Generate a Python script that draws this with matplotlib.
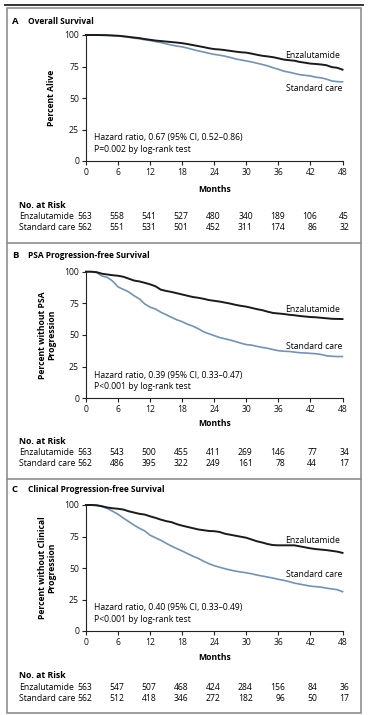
import numpy as np
import matplotlib.pyplot as plt
from matplotlib.lines import Line2D
from matplotlib.patches import Rectangle

plt.rcParams['font.family'] = ['Open Sans', 'DejaVu Sans']
FS = 6.2

# Data
months = list(range(49))
risk_months = [0, 6, 12, 18, 24, 30, 36, 42, 48]

os_enz = [100, 100, 100, 99.9, 99.8, 99.6, 99.4, 99, 98.5, 98, 97.5, 96.8, 96.2,
          95.6, 95.2, 94.8, 94.4, 94, 93.5, 92.8, 92, 91.2, 90.4, 89.5, 88.8,
          88.5, 88, 87.4, 86.8, 86.3, 86, 85.2, 84.3, 83.5, 83, 82.4, 81.5,
          80.5, 80, 79.6, 78.6, 78, 77.3, 77, 76.6, 76, 74.5, 74, 72.5]
os_std = [100, 100, 100, 99.9, 99.8, 99.5, 99.3, 98.8, 98.2, 97.5, 97, 96.2, 95.6,
          94.8, 94, 93, 92, 91.2, 90.6, 89.6, 88.5, 87.4, 86.5, 85.5, 84.6,
          84, 83.2, 82.2, 81, 80.2, 79.4, 78.6, 77.6, 76.6, 75.5, 74, 72.8,
          71.3, 70.5, 69.5, 68.5, 68, 67.5, 66.5, 66, 65, 63.5, 63, 62.8]

psa_enz = [100, 100, 99.6, 98.4, 97.8, 97.2, 96.8, 96, 94.5, 93, 92.3, 91.2, 90,
           88.5, 85.8, 84.8, 84, 83, 82, 81, 80, 79.4, 78.6, 77.6, 77,
           76.4, 75.6, 74.8, 73.8, 73, 72.4, 71.4, 70.4, 69.6, 68.4, 67.4, 67,
           66.6, 66, 65.6, 65, 64.6, 64.2, 64, 63.6, 63.2, 62.8, 62.7, 62.6]
psa_std = [100, 100, 99.3, 96.6, 95.5, 92.5, 88, 86, 84, 81, 78.5, 74.5, 72,
           70.5, 68, 66, 64, 62, 60.5, 58.5, 57, 55, 52.5, 51, 49.5,
           48, 47, 46, 44.8, 43.5, 42.4, 42, 41, 40.2, 39.5, 38.5, 37.6,
           37.2, 37, 36.5, 36, 35.8, 35.5, 35.2, 34.6, 33.6, 33.2, 33, 33]

cpf_enz = [100, 100, 99.8, 99, 98, 97.4, 97, 96.4, 95, 94, 93, 92.4, 91,
           89.8, 88.4, 87.2, 86.4, 84.8, 83.6, 82.6, 81.6, 80.6, 80, 79.4, 79.2,
           78.6, 77.2, 76.4, 75.6, 74.8, 74, 72.6, 71.2, 70.2, 69, 68.2, 68,
           68, 68, 68, 67.2, 66.4, 65.6, 65, 64.6, 64.2, 63.6, 63, 62]
cpf_std = [100, 100, 99.6, 98.8, 97.2, 95, 92.6, 89.6, 86.8, 84, 81.5, 79.4, 76,
           74, 72, 69.6, 67.4, 65.4, 63.5, 61.4, 59.4, 57.6, 55.4, 53.4, 51.8,
           50.6, 49.4, 48.4, 47.5, 46.8, 46.2, 45.4, 44.4, 43.6, 42.8, 42, 41,
           40.2, 39.2, 38, 37.2, 36.4, 35.6, 35.2, 34.8, 34, 33.4, 32.8, 31.2]

risk_os_enz = [563, 558, 541, 527, 480, 340, 189, 106, 45]
risk_os_std = [562, 551, 531, 501, 452, 311, 174, 86, 32]
risk_psa_enz = [563, 543, 500, 455, 411, 269, 146, 77, 34]
risk_psa_std = [562, 486, 395, 322, 249, 161, 78, 44, 17]
risk_cpf_enz = [563, 547, 507, 468, 424, 284, 156, 84, 36]
risk_cpf_std = [562, 512, 418, 346, 272, 182, 96, 50, 17]

letters = ['A', 'B', 'C']
titles = ['Overall Survival', 'PSA Progression-free Survival',
          'Clinical Progression-free Survival']
ylabels = ['Percent Alive', 'Percent without PSA\nProgression',
           'Percent without Clinical\nProgression']
hazard = ['Hazard ratio, 0.67 (95% CI, 0.52\u20130.86)',
          'Hazard ratio, 0.39 (95% CI, 0.33\u20130.47)',
          'Hazard ratio, 0.40 (95% CI, 0.33\u20130.49)']
pvals = ['P=0.002 by log-rank test', 'P<0.001 by log-rank test',
         'P<0.001 by log-rank test']
curves = [(os_enz, os_std), (psa_enz, psa_std), (cpf_enz, cpf_std)]
risks = [(risk_os_enz, risk_os_std), (risk_psa_enz, risk_psa_std),
         (risk_cpf_enz, risk_cpf_std)]

# layout (pixels in a 368x715 image)
W, H = 368, 715
ax_left, ax_right = 86, 342.5
ax_tops = [35, 271.7, 505]
ax_bots = [161, 398.3, 631]
title_y = [21, 255.5, 490]
months_y = [189, 424, 657]
risk_y = [205.5, 441.5, 676]
enz_lab_y = [84, 70, 71.5]
std_lab_y = [57.5, 41, 44.5]
ylab_x = [52, 47, 47]

BLUE = '#7093b7'
DARK = '#1a1a1a'
GREY = '#8f8f8f'

fx = lambda px: px / W
fy = lambda py: 1 - py / H
ppm = (ax_right - ax_left) / 48

fig = plt.figure(figsize=(W / 100, H / 100), dpi=100)

# frame
fig.add_artist(Line2D([fx(5), fx(363)], [fy(5), fy(5)], color='#333333', lw=1.4))
fig.add_artist(Rectangle((fx(7), fy(712.5)), fx(361) - fx(7), fy(8) - fy(712.5),
                         fill=False, ec=GREY, lw=1.2))
for yy in [243, 479]:
    fig.add_artist(Line2D([fx(7), fx(361)], [fy(yy), fy(yy)], color=GREY, lw=1.2))

for i in range(3):
    ax = fig.add_axes([fx(ax_left), fy(ax_bots[i]), fx(ax_right) - fx(ax_left),
                       fy(ax_tops[i]) - fy(ax_bots[i])])
    enz, std = curves[i]
    ax.plot(months, std, color=BLUE, lw=1.2, clip_on=False)
    ax.plot(months, enz, color=DARK, lw=1.4, clip_on=False)
    ax.set_xlim(0, 48)
    ax.set_ylim(0, 100)
    ax.set_xticks(risk_months)
    ax.set_yticks([0, 25, 50, 75, 100])
    for s in ['top', 'right']:
        ax.spines[s].set_visible(False)
    for s in ['left', 'bottom']:
        ax.spines[s].set_linewidth(0.8)
        ax.spines[s].set_color('#222222')
    ax.tick_params(direction='out', length=3, width=0.8, labelsize=FS, pad=2,
                   color='#222222', labelcolor='#111111')
    ax.text(47.6, enz_lab_y[i], 'Enzalutamide', ha='right', va='center', fontsize=FS)
    ax.text(48, std_lab_y[i], 'Standard care', ha='right', va='center', fontsize=FS)
    ax.text(1.5, 18.3, hazard[i], ha='left', va='center', fontsize=FS)
    ax.text(1.5, 9.3, pvals[i], ha='left', va='center', fontsize=FS)

    fig.text(fx(12), fy(title_y[i]), letters[i], fontsize=6.8, fontweight='bold',
             va='center')
    fig.text(fx(28), fy(title_y[i]), titles[i], fontsize=6.0, fontweight='bold',
             va='center')
    fig.text(fx(ylab_x[i]), fy((ax_tops[i] + ax_bots[i]) / 2), ylabels[i],
             rotation=90, ha='center', va='center', multialignment='center',
             fontsize=FS, fontweight='bold', linespacing=1.05)
    fig.text(fx((ax_left + ax_right) / 2), fy(months_y[i]), 'Months', ha='center',
             va='center', fontsize=FS, fontweight='bold')
    fig.text(fx(19), fy(risk_y[i]), 'No. at Risk', va='center', fontsize=6.3,
             fontweight='bold')
    for j, (name, vals) in enumerate(zip(['Enzalutamide', 'Standard care'], risks[i])):
        yy = fy(risk_y[i] + 11.2 * (j + 1))
        fig.text(fx(19), yy, name, va='center', fontsize=FS)
        for m, v in zip(risk_months, vals):
            fig.text(fx(ax_left + m * ppm + 6.5), yy, str(v), ha='right',
                     va='center', fontsize=FS)

fig.savefig('out.png', dpi=100)
